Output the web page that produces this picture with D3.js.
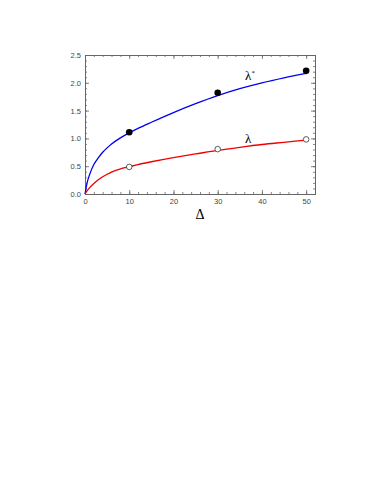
<!DOCTYPE html>
<html>
<head>
<meta charset="utf-8">
<script src="https://cdn.jsdelivr.net/npm/d3@7"></script>
<style>
  body { margin: 0; background: #fff; }
  svg { display: block; }
</style>
</head>
<body>
<div id="chart"></div>
<script>
var width = 374;
var height = 489;
var margin = { left: 85, top: 55, right: 59, bottom: 295 };

// sampled curves (Delta -> lambda)
var curveX = [0, 0.5, 1, 2, 3, 4, 5, 6, 8, 10, 12, 15, 20, 25, 30, 35, 40, 45, 50];
var lambdaStar = [0, 0.21, 0.34, 0.53, 0.65, 0.75, 0.83, 0.9, 1.01, 1.1, 1.18, 1.29, 1.465, 1.625, 1.77, 1.895, 2.0, 2.09, 2.17];
var lambda = [0, 0.06, 0.11, 0.19, 0.255, 0.31, 0.355, 0.395, 0.45, 0.49, 0.53, 0.58, 0.655, 0.72, 0.785, 0.84, 0.89, 0.93, 0.97];

// measured points
var pointX = [10, 30, 50];
var lambdaStarPts = [1.11, 1.82, 2.215];
var lambdaPts = [0.487, 0.807, 0.982];

var xTicks = [0, 10, 20, 30, 40, 50];
var yTicks = [0.0, 0.5, 1.0, 1.5, 2.0, 2.5];

var w = width - margin.left - margin.right;
var h = height - margin.top - margin.bottom;

var svg = d3.select("#chart").append("svg")
  .attr("width", width)
  .attr("height", height);

var g = svg.append("g")
  .attr("transform", "translate(" + margin.left + "," + margin.top + ")");

var x = d3.scaleLinear().domain([0, 52]).range([0, w]);
var y = d3.scaleLinear().domain([0, 2.5]).range([h, 0]);

var minorX = d3.range(0, 52.01, 2);
var minorY = d3.range(0, 2.501, 0.1);

function styleAxis(sel) {
  sel.selectAll("path").attr("stroke", "#666").attr("stroke-width", 1);
  sel.selectAll("line").attr("stroke", "#666").attr("stroke-width", 0.8);
  sel.selectAll("text").attr("fill", "#444").style("font-family", "Liberation Sans, Arial, sans-serif").style("font-size", "7.5px");
}

// minor ticks (all sides, inward)
g.append("g").attr("transform", "translate(0," + h + ")")
  .call(d3.axisBottom(x).tickValues(minorX).tickSize(-2).tickFormat("")).call(styleAxis);
g.append("g")
  .call(d3.axisTop(x).tickValues(minorX).tickSize(-2).tickFormat("")).call(styleAxis);
g.append("g")
  .call(d3.axisLeft(y).tickValues(minorY).tickSize(-2).tickFormat("")).call(styleAxis);
g.append("g").attr("transform", "translate(" + w + ",0)")
  .call(d3.axisRight(y).tickValues(minorY).tickSize(-2).tickFormat("")).call(styleAxis);

// major ticks
g.append("g").attr("transform", "translate(0," + h + ")")
  .call(d3.axisBottom(x).tickValues(xTicks).tickSize(-4).tickPadding(5).tickFormat(d3.format("d"))).call(styleAxis);
g.append("g")
  .call(d3.axisTop(x).tickValues(xTicks).tickSize(-4).tickFormat("")).call(styleAxis);
g.append("g")
  .call(d3.axisLeft(y).tickValues(yTicks).tickSize(-4).tickPadding(4).tickFormat(d3.format(".1f"))).call(styleAxis);
g.append("g").attr("transform", "translate(" + w + ",0)")
  .call(d3.axisRight(y).tickValues(yTicks).tickSize(-4).tickFormat("")).call(styleAxis);

var line = d3.line()
  .x(function(d) { return x(d[0]); })
  .y(function(d) { return y(d[1]); })
  .curve(d3.curveMonotoneX);

g.append("path")
  .datum(d3.zip(curveX, lambdaStar))
  .attr("d", line)
  .attr("fill", "none")
  .attr("stroke", "#0000ee")
  .attr("stroke-width", 1.3);

g.append("path")
  .datum(d3.zip(curveX, lambda))
  .attr("d", line)
  .attr("fill", "none")
  .attr("stroke", "#ee0000")
  .attr("stroke-width", 1.3);

g.selectAll(".dotStar")
  .data(d3.zip(pointX, lambdaStarPts))
  .enter().append("circle")
  .attr("cx", function(d) { return x(d[0]); })
  .attr("cy", function(d) { return y(d[1]); })
  .attr("r", 3.3)
  .attr("fill", "#000");

g.selectAll(".dotOpen")
  .data(d3.zip(pointX, lambdaPts))
  .enter().append("circle")
  .attr("cx", function(d) { return x(d[0]); })
  .attr("cy", function(d) { return y(d[1]); })
  .attr("r", 2.8)
  .attr("fill", "#fff")
  .attr("stroke", "#333")
  .attr("stroke-width", 0.8);

// labels
var lblStar = g.append("text")
  .attr("x", x(36.2))
  .attr("y", y(2.05))
  .style("font-family", "Liberation Serif, Times New Roman, serif")
  .style("font-size", "13px")
  .text("λ");
lblStar.append("tspan")
  .attr("dy", -5)
  .style("font-size", "7px")
  .text("*");

g.append("text")
  .attr("x", x(36.2))
  .attr("y", y(0.92))
  .style("font-family", "Liberation Serif, Times New Roman, serif")
  .style("font-size", "13px")
  .text("λ");

g.append("text")
  .attr("x", x(26))
  .attr("y", h + 25)
  .attr("text-anchor", "middle")
  .style("font-family", "Liberation Serif, Times New Roman, serif")
  .style("font-size", "14px")
  .text("Δ");
</script>
</body>
</html>
